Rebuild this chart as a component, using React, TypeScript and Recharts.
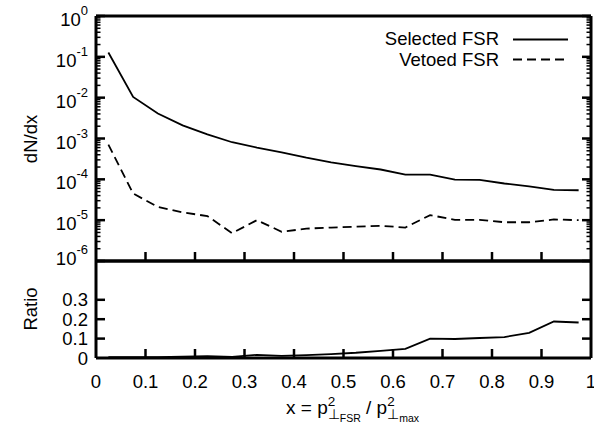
import { Line, LineChart, XAxis, YAxis } from "recharts";

const FONT = "'Liberation Sans', Arial, Helvetica, sans-serif";

// bin centres of the x = p2T(FSR)/p2T(max) histogram
const xBins = [
  0.025, 0.075, 0.125, 0.175, 0.225, 0.275, 0.325, 0.375, 0.425, 0.475,
  0.525, 0.575, 0.625, 0.675, 0.725, 0.775, 0.825, 0.875, 0.925, 0.975,
];
const selectedFSR = [
  0.128, 0.0104, 0.0041, 0.0021, 0.00126, 0.00081, 0.0006, 0.00046, 0.00034,
  0.00026, 0.00021, 0.000174, 0.000131, 0.000131, 0.000098, 0.000097,
  0.000079, 0.000067, 0.000055, 0.000054,
];
const vetoedFSR = [
  0.00071, 0.000045, 0.000021, 0.0000155, 0.0000126, 0.0000048, 0.00001,
  0.0000052, 0.0000062, 0.0000066, 0.0000069, 0.0000073, 0.0000066,
  0.0000133, 0.0000102, 0.0000102, 0.0000089, 0.0000089, 0.0000104, 0.00001,
];
const ratio = [
  0.004, 0.004, 0.005, 0.007, 0.01, 0.006, 0.016, 0.011, 0.015, 0.02, 0.027,
  0.037, 0.047, 0.1, 0.098, 0.103, 0.108, 0.13, 0.188, 0.183,
];

const xTicks = [0, 0.1, 0.2, 0.3, 0.4, 0.5, 0.6, 0.7, 0.8, 0.9, 1];
const xTickLabels = ["0", "0.1", "0.2", "0.3", "0.4", "0.5", "0.6", "0.7", "0.8", "0.9", "1"];
const logMajor = [1e-6, 1e-5, 1e-4, 1e-3, 1e-2, 1e-1, 1];
const logMinorSteps = [2, 3, 4, 5, 6, 7, 8, 9];
const ratioTicks = [0, 0.1, 0.2, 0.3];
const ratioTickLabels = ["0", "0.1", "0.2", "0.3"];

const logTicks = [
  ...logMajor,
  ...logMajor.slice(0, -1).flatMap((d) => logMinorSteps.map((m) => d * m)),
];

const data = xBins.map((x, i) => ({
  x,
  sel: selectedFSR[i],
  veto: vetoedFSR[i],
  ratio: ratio[i],
}));

const isMajor = (v: number) => {
  const l = Math.log10(v);
  return Math.abs(l - Math.round(l)) < 1e-6;
};

function LogTickLeft(props: any) {
  const { x, y, payload } = props;
  const v = payload.value;
  const major = isMajor(v);
  const len = major ? 9 : 4.5;
  const exp = Math.round(Math.log10(v));
  // lowest label sits a bit higher, as in the original
  const base = exp === -6 ? y + 4 : y + 10;
  return (
    <g>
      <line x1={x} x2={x + len} y1={y} y2={y} stroke="#000" strokeWidth={major ? 2.5 : 1.5} />
      {major && (
        <text x={x - 8} y={base} textAnchor="end" fontFamily={FONT} fontSize={18.5} fill="#000">
          10
          <tspan fontSize={13} dy={-11}>
            {exp === 0 ? "0" : "-" + Math.abs(exp)}
          </tspan>
        </text>
      )}
    </g>
  );
}

function LogTickRight(props: any) {
  const { x, y, payload } = props;
  const major = isMajor(payload.value);
  const len = major ? 9 : 4.5;
  return <line x1={x} x2={x - len} y1={y} y2={y} stroke="#000" strokeWidth={major ? 2.5 : 1.5} />;
}

function UpTick(props: any) {
  const { x, y, payload } = props;
  if (payload.value <= 0 || payload.value >= 1) return <g />;
  return <line x1={x} x2={x} y1={y} y2={y - 9} stroke="#000" strokeWidth={2.5} />;
}

function BottomTick(props: any) {
  const { x, y, payload, index } = props;
  const v = payload.value;
  return (
    <g>
      {v > 0 && v < 1 && <line x1={x} x2={x} y1={y} y2={y - 9} stroke="#000" strokeWidth={2.5} />}
      <text x={x} y={y + 30} textAnchor="middle" fontFamily={FONT} fontSize={18.5} fill="#000">
        {xTickLabels[index]}
      </text>
    </g>
  );
}

function RatioTickLeft(props: any) {
  const { x, y, payload, index } = props;
  return (
    <g>
      {payload.value > 0 && <line x1={x} x2={x + 9} y1={y} y2={y} stroke="#000" strokeWidth={2.5} />}
      <text x={x - 8} y={y + 6.5} textAnchor="end" fontFamily={FONT} fontSize={18.5} fill="#000">
        {ratioTickLabels[index]}
      </text>
    </g>
  );
}

function RatioTickRight(props: any) {
  const { x, y, payload } = props;
  if (payload.value <= 0) return <g />;
  return <line x1={x} x2={x - 9} y1={y} y2={y} stroke="#000" strokeWidth={2.5} />;
}

const frame = { stroke: "#000", strokeWidth: 3 };

export default function App() {
  return (
    <div style={{ position: "absolute", left: 0, top: 0, width: 594, height: 423, background: "#fff" }}>
      <div style={{ position: "absolute", left: 0, top: 0 }}>
        <LineChart width={594} height={272} data={data} margin={{ top: 15, right: 2, bottom: 10, left: 36 }}>
          <XAxis xAxisId="b" dataKey="x" type="number" domain={[0, 1]} ticks={xTicks} interval={0}
            height={1} tickSize={0} tickMargin={0} tickLine={false} axisLine={frame} tick={<UpTick />} allowDataOverflow />
          <XAxis xAxisId="t" orientation="top" type="number" domain={[0, 1]} height={1}
            tick={false} tickLine={false} axisLine={frame} />
          <YAxis yAxisId="l" type="number" scale="log" domain={[1e-6, 1]} ticks={logTicks} interval={0}
            width={60} tickSize={0} tickMargin={0} tickLine={false} axisLine={frame} tick={<LogTickLeft />} allowDataOverflow />
          <YAxis yAxisId="r" orientation="right" type="number" scale="log" domain={[1e-6, 1]} ticks={logTicks} interval={0}
            width={1} tickSize={0} tickMargin={0} tickLine={false} axisLine={frame} tick={<LogTickRight />} allowDataOverflow />
          <Line xAxisId="b" yAxisId="l" dataKey="sel" type="linear" stroke="#000" strokeWidth={1.8}
            dot={false} isAnimationActive={false} />
          <Line xAxisId="b" yAxisId="l" dataKey="veto" type="linear" stroke="#000" strokeWidth={1.8}
            strokeDasharray="9 5" dot={false} isAnimationActive={false} />
        </LineChart>
      </div>
      <div style={{ position: "absolute", left: 0, top: 256 }}>
        <LineChart width={594} height={167} data={data} margin={{ top: 4, right: 2, bottom: 30, left: 36 }}>
          <XAxis xAxisId="b" dataKey="x" type="number" domain={[0, 1]} ticks={xTicks} interval={0}
            height={35} tickSize={0} tickMargin={0} tickLine={false} axisLine={frame} tick={<BottomTick />} allowDataOverflow />
          <XAxis xAxisId="t" orientation="top" type="number" domain={[0, 1]} height={1}
            tick={false} tickLine={false} axisLine={frame} />
          <YAxis yAxisId="l" type="number" domain={[0, 0.5]} ticks={ratioTicks} interval={0}
            width={60} tickSize={0} tickMargin={0} tickLine={false} axisLine={frame} tick={<RatioTickLeft />} allowDataOverflow />
          <YAxis yAxisId="r" orientation="right" type="number" domain={[0, 0.5]} ticks={ratioTicks} interval={0}
            width={1} tickSize={0} tickMargin={0} tickLine={false} axisLine={frame} tick={<RatioTickRight />} allowDataOverflow />
          <Line xAxisId="b" yAxisId="l" dataKey="ratio" type="linear" stroke="#000" strokeWidth={1.8}
            dot={false} isAnimationActive={false} />
        </LineChart>
      </div>
      <svg width={594} height={423} style={{ position: "absolute", left: 0, top: 0, pointerEvents: "none" }}
        fontFamily={FONT} fill="#000">
        <text x={499} y={45} textAnchor="end" fontSize={18.5}>Selected FSR</text>
        <line x1={513} x2={568} y1={39.5} y2={39.5} stroke="#000" strokeWidth={1.8} />
        <text x={499} y={66} textAnchor="end" fontSize={18.5}>Vetoed FSR</text>
        <line x1={513} x2={568} y1={59.5} y2={59.5} stroke="#000" strokeWidth={1.8} strokeDasharray="9 5" />
        <text transform="translate(37,139) rotate(-90)" textAnchor="middle" fontSize={18.5}>dN/dx</text>
        <text transform="translate(37,309) rotate(-90)" textAnchor="middle" fontSize={18.5}>Ratio</text>
        <text x={286} y={414} fontSize={19}>
          x = p
          <tspan fontSize={13.5} dy={-8}>2</tspan>
          <tspan fontSize={13.5} dx={-7.5} dy={13}>⊥</tspan>
          <tspan fontSize={10.5} dy={3}>FSR</tspan>
          <tspan fontSize={19} dy={-8}> / p</tspan>
          <tspan fontSize={13.5} dy={-8}>2</tspan>
          <tspan fontSize={13.5} dx={-7.5} dy={13}>⊥</tspan>
          <tspan fontSize={10.5} dy={3}>max</tspan>
        </text>
      </svg>
    </div>
  );
}
